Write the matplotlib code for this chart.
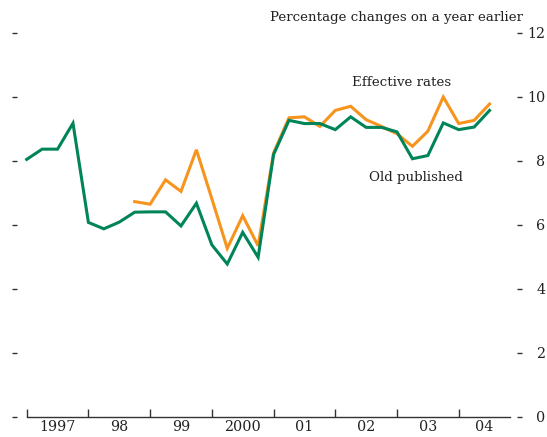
#!/usr/bin/env python3

import numpy as np
import matplotlib
matplotlib.use("Agg")
import matplotlib.pyplot as plt

# quarterly observations, 1997 Q1 .. 2004 Q3
old_published = [8.05, 8.37, 8.37, 9.18, 6.08, 5.88, 6.09, 6.40,
                 6.41, 6.41, 5.97, 6.68, 5.38, 4.78, 5.77, 4.99,
                 8.20, 9.27, 9.17, 9.17, 8.98, 9.38, 9.05, 9.05,
                 8.91, 8.07, 8.17, 9.19, 8.98, 9.06, 9.58]
# effective rates start in 1998 Q4
effective_rates = [6.73, 6.65, 7.41, 7.05, 8.35, 6.82, 5.27, 6.29,
                   5.35, 8.25, 9.35, 9.38, 9.08, 9.58, 9.71, 9.29,
                   9.08, 8.85, 8.46, 8.93, 10.0, 9.17, 9.27, 9.78]
eff_start = 7

year_labels = ['1997', '98', '99', '2000', '01', '02', '03', '04']
y_ticks = [0, 2, 4, 6, 8, 10, 12]

green = '#00845A'
orange = '#F7941D'
fs_tick = 10.3
fs_text = 9.6

plt.rcParams['font.family'] = ['DejaVu Serif']

fig = plt.figure(figsize=(5.47, 4.37), dpi=100)
ax = fig.add_axes([0.0488, 0.0458, 0.884, 0.8787])

x_old = np.arange(len(old_published))
x_eff = np.arange(len(effective_rates)) + eff_start

ax.plot(x_eff, effective_rates, color=orange, lw=2.2, solid_joinstyle='miter', clip_on=False)
ax.plot(x_old, old_published, color=green, lw=2.2, solid_joinstyle='miter', clip_on=False)

xmax = 31.34
ax.set_xlim(0, xmax)
ax.set_ylim(0, 12)

for s in ['top', 'right', 'left']:
    ax.spines[s].set_visible(False)
ax.spines['bottom'].set_color('#333333')
ax.spines['bottom'].set_linewidth(1.0)

# y ticks on both sides, set off from the plot
ax.spines['left'].set_position(('outward', 7.2))
ax.spines['right'].set_position(('outward', 5.2))
ax.set_yticks(y_ticks)
ax.tick_params(axis='y', which='major', direction='out', length=3.6, width=1.0,
               color='#333333', left=True, right=True, labelleft=False,
               labelright=True, labelsize=fs_tick, labelcolor='#222222', pad=16.5)
for lab in ax.get_yticklabels():
    lab.set_horizontalalignment('right')

# year boundaries, labels centred in the visible part of each year
year_bounds = np.arange(0, 4 * len(year_labels), 4)
label_pos = [(b + min(b + 4, xmax)) / 2 for b in year_bounds]
ax.set_xticks(year_bounds)
ax.set_xticks(label_pos, minor=True)
ax.set_xticklabels([])
ax.set_xticklabels(year_labels, minor=True)
ax.tick_params(axis='x', which='major', direction='in', length=5.5, width=1.0, color='#333333')
ax.tick_params(axis='x', which='minor', length=0, labelsize=fs_tick, labelcolor='#222222', pad=2)

fig.text(523 / 547, 1 - 18 / 437, 'Percentage changes on a year earlier',
         ha='right', va='center', fontsize=fs_text, color='#222222')
ax.annotate('Effective rates', xy=(402 / 547, 1 - 83 / 437), xycoords='figure fraction',
            ha='center', va='center', fontsize=fs_text, color='#222222')
ax.annotate('Old published', xy=(416 / 547, 1 - 178 / 437), xycoords='figure fraction',
            ha='center', va='center', fontsize=fs_text, color='#222222')

fig.savefig('out.png', dpi=100)
